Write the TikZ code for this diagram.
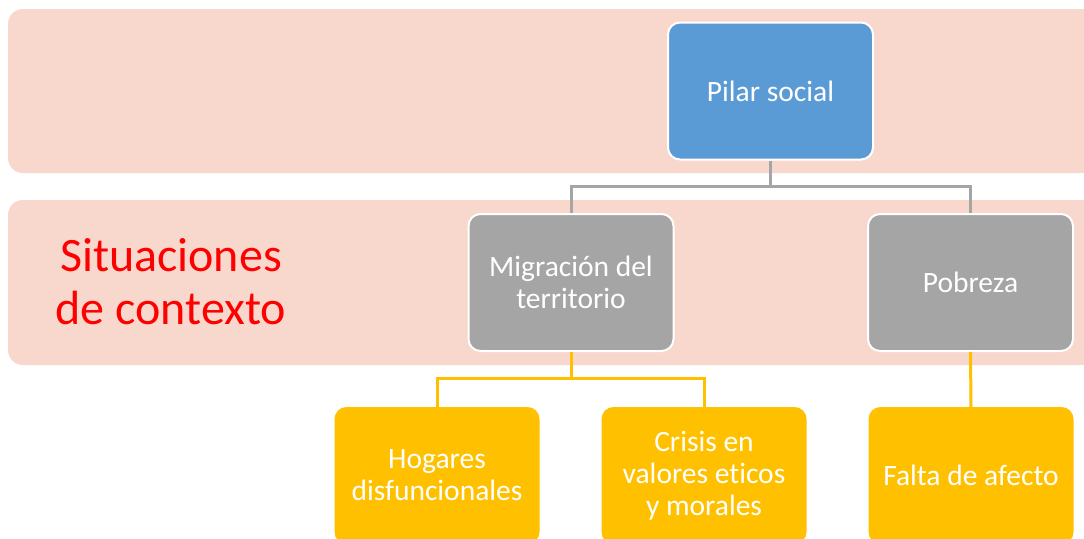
\documentclass[tikz,border=0pt]{standalone}
\usepackage{fontspec}
\setmainfont[Ligatures=NoCommon]{Carlito}
\definecolor{band}{HTML}{F8D7CD}
\definecolor{bluebox}{HTML}{5B9BD5}
\definecolor{graybox}{HTML}{A5A5A5}
\definecolor{yellowbox}{HTML}{FFC000}
\begin{document}
\begin{tikzpicture}[x=1pt,y=-1pt,
  box/.style={draw=white,line width=2pt,rounded corners=12pt,minimum width=205pt,minimum height=137pt,text=white,align=center,font=\fontsize{29.5}{32}\selectfont,inner sep=0pt},
  graylink/.style={draw=graybox,line width=3pt},
  yellowlink/.style={draw=yellowbox,line width=3pt}]
\useasboundingbox (0,0) rectangle (1084,538);
\clip (0,0) rectangle (1084,538);
\fill[band,rounded corners=15pt] (8,9) rectangle (1100,173);
\fill[band,rounded corners=15pt] (8,200) rectangle (1100,365);
\node[box,fill=bluebox] (pilar) at (770.5,91) {Pilar social};
\node[box,fill=graybox] (migr) at (571,282.5) {Migración del\\territorio};
\node[box,fill=graybox] (pob) at (970.5,282.5) {Pobreza};
\node[box,fill=yellowbox,draw=none] (hog) at (437,475.5) {Hogares\\disfuncionales};
\node[box,fill=yellowbox,draw=none] (cri) at (704,475.5) {Crisis en\\valores eticos\\y morales};
\node[box,fill=yellowbox,draw=none] (fal) at (971,475.5) {Falta de afecto};
\node[text=red,align=center,font=\fontsize{48}{53}\selectfont] (sit) at (171,282) {Situaciones\\de contexto};
\coordinate (j1) at (770.5,186);
\draw[graylink] (pilar.south) -- (j1) -| (migr.north);
\draw[graylink] (j1) -| (pob.north);
\coordinate (j2) at (571,378);
\draw[yellowlink] (migr.south) -- (j2) -| ([yshift=-3pt]hog.north);
\draw[yellowlink] (j2) -| ([yshift=-3pt]cri.north);
\draw[yellowlink] (pob.south) -- ([yshift=-3pt]fal.north);
\end{tikzpicture}
\end{document}
